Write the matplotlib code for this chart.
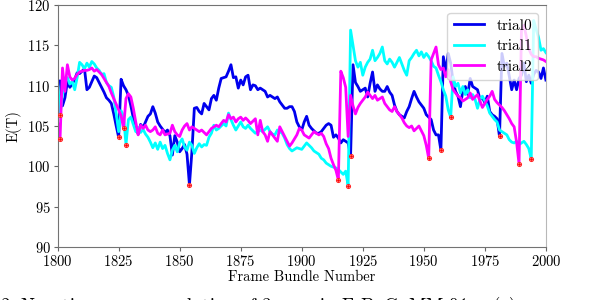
import numpy as np
import matplotlib
matplotlib.use('Agg')
from matplotlib import pyplot as plt

plt.rcParams['font.family'] = 'serif'
plt.rcParams['font.serif'] = ['cmr10', 'DejaVu Serif']
plt.rcParams['mathtext.fontset'] = 'cm'
plt.rcParams['axes.formatter.use_mathtext'] = True

frames = np.arange(1800, 2001)

trial0 = [110.5, 110.6, 107.5, 108.5, 110.5, 109.8, 110.2, 110.8, 111.6, 111.5,
          111.8, 112.1, 109.5, 109.8, 110.5, 111.2, 111.0, 110.4, 109.8, 109.2,
          108.5, 108.2, 107.8, 106.5, 105.0, 103.6, 110.8, 110.0, 109.5, 108.8,
          107.5, 106.0, 104.8, 104.0, 105.2, 104.8, 105.5, 106.2, 106.5, 107.4,
          106.6, 105.5, 105.0, 104.6, 104.2, 104.5, 103.8, 101.4, 103.8, 103.0,
          101.8, 102.2, 102.7, 101.5, 97.7, 101.8, 107.2, 107.3, 106.8, 106.5,
          107.8, 107.4, 107.0, 108.4, 108.8, 108.2, 109.7, 110.9, 111.0, 111.1,
          111.8, 112.6, 111.0, 111.1, 109.7, 110.7, 110.1, 111.1, 111.3, 109.5,
          110.1, 110.0, 109.5, 109.7, 109.5, 109.3, 108.6, 108.8, 108.6, 108.4,
          108.6, 108.0, 107.6, 107.2, 107.2, 107.4, 107.4, 106.8, 105.5, 104.9,
          104.5, 105.5, 106.2, 105.1, 104.7, 104.4, 104.1, 104.1, 104.3, 104.7,
          105.1, 105.3, 105.1, 103.6, 103.9, 103.5, 102.9, 103.3, 103.1, 102.9,
          101.3, 112.6, 110.4, 109.9, 109.3, 109.5, 109.7, 108.6, 110.3, 111.7,
          109.3, 110.1, 109.6, 109.3, 109.3, 109.9, 109.2, 108.8, 107.6, 106.8,
          106.4, 106.2, 106.0, 106.8, 107.4, 108.4, 109.3, 108.6, 108.0, 107.6,
          107.2, 106.4, 106.1, 105.8, 104.5, 103.9, 103.9, 102.0, 113.6, 111.8,
          114.0, 112.8, 110.5, 109.3, 108.7, 107.4, 109.5, 109.9, 108.9, 110.9,
          109.9, 109.7, 109.5, 108.3, 108.5, 107.9, 108.7, 106.8, 106.4, 106.2,
          105.9, 103.7, 114.0, 112.4, 112.8, 111.2, 109.5, 110.7, 109.5, 110.9,
          111.3, 112.8, 110.5, 111.3, 110.3, 111.4, 111.9, 111.7, 110.9, 112.2,
          110.7]

trial1 = [110.5, 106.4, 109.0, 110.8, 111.0, 110.2, 110.5, 109.5, 111.0, 112.9,
          112.6, 112.1, 112.8, 112.3, 113.0, 112.7, 112.2, 111.9, 111.4, 111.5,
          110.4, 110.0, 109.8, 108.6, 106.5, 104.3, 106.9, 106.2, 102.7, 105.8,
          106.1, 105.2, 104.3, 104.8, 104.2, 104.6, 104.0, 103.6, 103.0, 102.3,
          102.9, 102.1, 103.0, 102.2, 102.6, 101.6, 100.8, 102.0, 102.6, 101.8,
          102.9, 103.4, 102.4, 102.0, 103.0, 102.6, 101.6, 102.3, 102.8, 102.4,
          102.7, 102.6, 103.6, 104.1, 105.1, 104.5, 104.7, 105.0, 105.3, 105.0,
          106.6, 105.8, 105.1, 104.5, 105.0, 105.5, 104.9, 104.7, 105.1, 104.7,
          104.4, 104.1, 104.3, 104.5, 104.3, 104.6, 104.9, 104.3, 104.0, 103.9,
          104.5, 104.3, 104.1, 103.5, 102.7, 102.2, 101.9, 102.1, 102.3, 102.2,
          102.1, 102.5, 102.9, 102.6, 102.3, 101.9, 101.7, 101.5, 101.0, 100.8,
          100.4, 100.2, 100.0, 99.9, 99.8, 99.6, 99.3, 99.0, 99.4, 97.6,
          116.9, 115.0, 113.1, 112.3, 112.9, 111.3, 112.3, 112.9, 113.3, 114.4,
          113.1, 113.5, 114.0, 114.8, 113.1, 112.7, 113.3, 112.9, 112.3, 112.9,
          113.5, 112.7, 111.9, 111.3, 113.1, 113.5, 114.0, 114.4, 113.7, 114.2,
          113.5, 114.0, 113.6, 113.1, 112.4, 112.2, 111.3, 110.5, 109.5, 108.7,
          107.0, 106.1, 111.1, 109.9, 110.3, 109.1, 109.9, 108.9, 109.5, 108.5,
          108.9, 108.3, 107.2, 108.3, 108.7, 108.1, 107.5, 106.6, 106.2, 105.8,
          105.5, 104.5, 104.3, 104.1, 103.9, 103.3, 103.0, 102.9, 103.1, 102.7,
          102.9, 103.1, 102.7, 102.2, 100.9, 118.1, 117.0, 116.0, 114.4, 114.6,
          114.1]

trial2 = [105.5, 103.4, 112.2, 109.3, 112.6, 111.1, 110.7, 110.9, 111.4, 111.7,
          111.8, 111.9, 111.9, 112.0, 112.2, 111.8, 112.0, 111.7, 111.4, 110.9,
          110.4, 109.9, 109.1, 108.4, 107.7, 107.0, 106.3, 104.7, 108.4, 109.0,
          108.6, 107.2, 105.5, 103.9, 105.1, 104.7, 105.1, 104.5, 104.3, 104.5,
          104.9, 104.1, 103.9, 104.5, 103.9, 104.0, 104.1, 105.1, 104.3, 103.9,
          103.7, 104.5, 105.0, 105.3, 104.5, 104.9, 104.7, 104.5, 104.3, 104.5,
          104.2, 103.9, 104.3, 104.7, 104.9, 105.1, 104.9, 105.3, 105.7, 105.5,
          106.4, 105.9, 106.1, 105.5, 105.9, 106.1, 105.7, 106.0, 105.7, 105.3,
          105.6, 105.9, 103.9, 105.7, 104.3, 103.9, 103.1, 104.3, 103.9, 103.5,
          103.1, 104.9, 104.3, 103.7, 103.1, 102.5, 102.9, 103.4, 103.9, 104.7,
          104.5, 103.9, 103.7, 103.5, 103.9, 104.3, 104.1, 103.9, 104.1, 103.7,
          102.8, 102.2, 101.0, 100.2, 99.5, 98.3, 111.8, 111.0, 109.8, 103.7,
          108.8, 107.5, 106.5, 107.3, 107.8, 108.2, 108.6, 109.2, 108.8, 108.4,
          108.8, 108.2, 108.4, 108.6, 107.8, 107.4, 107.0, 106.8, 107.4, 106.8,
          106.4, 106.0, 105.4, 105.0, 104.8, 105.0, 104.4, 104.7, 105.0, 104.4,
          103.8, 102.6, 101.0, 113.2, 114.0, 114.8, 112.6, 112.0, 112.2, 111.1,
          112.0, 110.5, 109.5, 109.1, 108.7, 108.5, 108.1, 108.3, 108.5, 109.1,
          108.3, 108.6, 108.9, 108.1, 107.3, 107.8, 108.3, 108.7, 109.3, 108.3,
          107.9, 107.6, 107.3, 106.9, 106.4, 105.9, 105.3, 104.9, 103.0, 100.3,
          116.9, 117.5, 116.1, 114.6, 113.9, 113.6, 113.6, 113.4, 113.3, 113.2,
          113.0]

# frames where each run was marked
marks0 = [1825, 1854, 1920, 1957, 1981]
marks1 = [1801, 1828, 1919, 1961, 1994]
marks2 = [1801, 1827, 1915, 1952, 1989]

names = ['trial0', 'trial1', 'trial2']
colors = ['#0000ee', 'cyan', 'magenta']

fig = plt.figure(figsize=(5.94, 3.0), dpi=100)
ax = fig.add_axes([0.097, 0.177, 0.822, 0.806])

series = [trial0, trial1, trial2]
for s, name, c in zip(series, names, colors):
    ax.plot(frames, s, color=c, lw=2, label=name)

for s, m in zip(series, [marks0, marks1, marks2]):
    idx = [f - 1800 for f in m]
    yy = [s[i] for i in idx]
    ax.plot(m, yy, 'o', ms=3, mfc='#ff8080', mec='#ff3030', mew=0.7, zorder=5)
    ax.plot(m, yy, '+', ms=2.5, color='red', mew=0.5, zorder=6)

ax.set_xlim(1800, 2000)
ax.set_ylim(90, 120)
ax.set_xticks(range(1800, 2001, 25))
ax.set_yticks(range(90, 121, 5))
ax.tick_params(labelsize=10.5, length=3, color='0.4', pad=2)
for k in ['left', 'bottom', 'top']:
    ax.spines[k].set_color('0.45')
ax.spines['right'].set_color('0.72')
ax.set_xlabel('Frame Bundle Number', fontsize=10.5, labelpad=1)
ax.set_ylabel('E(T)', fontsize=10.5, labelpad=4)
ax.legend(loc='upper right', fontsize=11, framealpha=0.8, borderaxespad=0.5,
          labelspacing=0.45)

fig.text(0.0, -0.04, r'2: Negative energy evolution of 3 runs in FrBoGuMM-01. $E(\tau)$',
         fontsize=13.5, va='baseline')

fig.savefig('out.png', dpi=100)
